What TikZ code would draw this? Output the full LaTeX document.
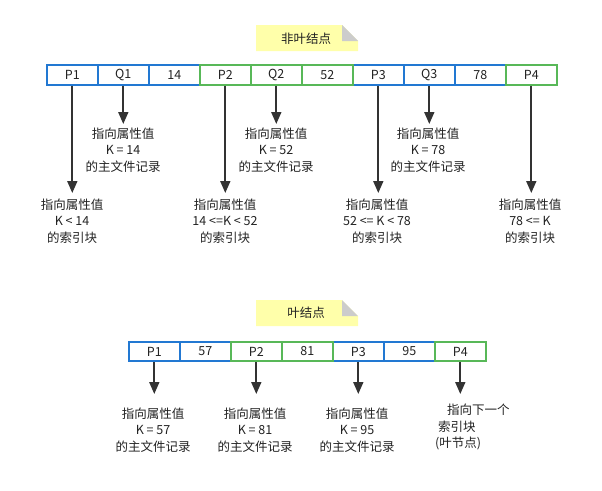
\documentclass[tikz,border=0pt]{standalone}
\usepackage{fontspec}
\setmainfont{Noto Sans CJK SC}
\usetikzlibrary{arrows.meta}
\definecolor{cblue}{RGB}{34,120,210}
\definecolor{cgreen}{RGB}{88,184,88}
\definecolor{notey}{RGB}{255,255,170}
\definecolor{fold}{RGB}{204,204,204}
\definecolor{arr}{RGB}{51,51,51}
\definecolor{txt}{RGB}{34,34,34}
\tikzset{
  cell/.style={draw, line width=1.6pt, minimum width=51pt, minimum height=19.5pt, inner sep=0pt, font=\fontsize{12.5}{14}\selectfont, text=txt, anchor=west},
  bcell/.style={cell, draw=cblue},
  gcell/.style={cell, draw=cgreen},
  lbl/.style={align=center, inner sep=0pt, text=txt, font=\fontsize{12.5}{16.5}\selectfont},
  ptr/.style={draw=arr, line width=1.8pt, -{Triangle[width=10pt,length=12pt]}},
  notetext/.style={inner sep=0pt, text=txt, font=\fontsize{12.5}{14}\selectfont}
}
\begin{document}
\begin{tikzpicture}[x=1pt,y=-1pt]
\useasboundingbox (0,0) rectangle (602,490);
% top note
\fill[notey] (256,25) -- (342,25) -- (358,41) -- (358,51) -- (256,51) -- cycle;
\fill[fold] (342,25) -- (342,41) -- (358,41) -- cycle;
\node[notetext] (n1) at (306,38.5) {非叶结点};
% bottom note
\fill[notey] (256,300) -- (342,300) -- (358,316) -- (358,326) -- (256,326) -- cycle;
\fill[fold] (342,300) -- (342,316) -- (358,316) -- cycle;
\node[notetext] (n2) at (306,313) {叶结点};
% top row
\node[bcell] (t1) at (46,75) {P1};
\node[bcell] (t2) at (97,75) {Q1};
\node[bcell] (t3) at (148,75) {14};
\node[bcell] (t10) at (352,75) {P3};
\node[bcell] (t11) at (403,75) {Q3};
\node[bcell] (t12) at (454,75) {78};
\node[gcell] (t4) at (199,75) {P2};
\node[gcell] (t5) at (250,75) {Q2};
\node[gcell] (t6) at (301,75) {52};
\node[gcell] (t13) at (505,75) {P4};
% bottom row
\node[bcell] (b1) at (128,351.5) {P1};
\node[bcell] (b2) at (179,351.5) {57};
\node[bcell] (b5) at (332,351.5) {P3};
\node[bcell] (b6) at (383,351.5) {95};
\node[gcell] (b3) at (230,351.5) {P2};
\node[gcell] (b4) at (281,351.5) {81};
\node[gcell] (b7) at (434,351.5) {P4};
% top labels
\node[lbl] (lq1) at (123,150) {指向属性值\\K = 14\\的主文件记录};
\node[lbl] (lq2) at (276,150) {指向属性值\\K = 52\\的主文件记录};
\node[lbl] (lq3) at (428,150) {指向属性值\\K = 78\\的主文件记录};
\node[lbl] (lp1) at (72,221) {指向属性值\\K < 14\\的索引块};
\node[lbl] (lp2) at (225,221) {指向属性值\\14 <=K < 52\\的索引块};
\node[lbl] (lp3) at (377,221) {指向属性值\\52 <= K < 78\\的索引块};
\node[lbl] (lp4) at (530,221) {指向属性值\\78 <= K\\的索引块};
% bottom labels
\node[lbl] (lb1) at (153,430) {指向属性值\\K = 57\\的主文件记录};
\node[lbl] (lb2) at (255,430) {指向属性值\\K = 81\\的主文件记录};
\node[lbl] (lb3) at (357,430) {指向属性值\\K = 95\\的主文件记录};
\node[lbl, align=left, anchor=north west] (lb4) at (435,404) {\hspace*{12pt}指向下一个\\\hspace*{3pt}索引块\\(叶节点)};
% arrow ends
\coordinate (eq1) at (t2.south |- 0,124);
\coordinate (eq2) at (t5.south |- 0,124);
\coordinate (eq3) at (t11.south |- 0,124);
\coordinate (ep1) at (t1.south |- 0,193);
\coordinate (ep2) at (t4.south |- 0,193);
\coordinate (ep3) at (t10.south |- 0,193);
\coordinate (ep4) at (t13.south |- 0,193);
\coordinate (eb1) at (b1.south |- 0,394);
\coordinate (eb2) at (b3.south |- 0,394);
\coordinate (eb3) at (b5.south |- 0,394);
\coordinate (eb4) at (b7.south |- 0,394);
\draw[ptr] (t2.south) -- (eq1);
\draw[ptr] (t5.south) -- (eq2);
\draw[ptr] (t11.south) -- (eq3);
\draw[ptr] (t1.south) -- (ep1);
\draw[ptr] (t4.south) -- (ep2);
\draw[ptr] (t10.south) -- (ep3);
\draw[ptr] (t13.south) -- (ep4);
\draw[ptr] (b1.south) -- (eb1);
\draw[ptr] (b3.south) -- (eb2);
\draw[ptr] (b5.south) -- (eb3);
\draw[ptr] (b7.south) -- (eb4);
\end{tikzpicture}
\end{document}
